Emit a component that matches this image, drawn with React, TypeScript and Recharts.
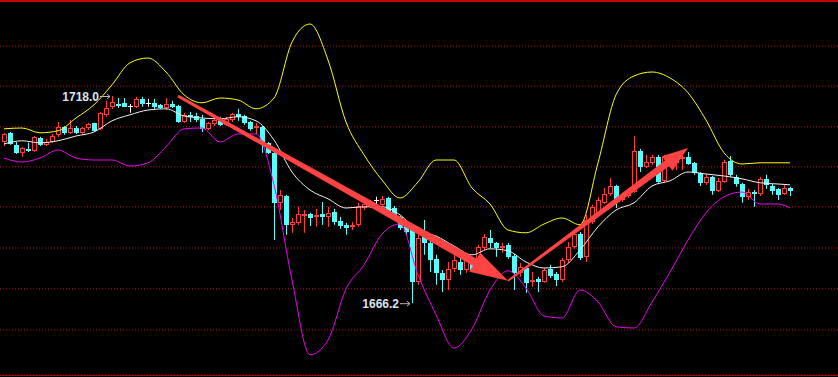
import React from 'react';
import { ComposedChart, Bar, Line, XAxis, YAxis, CartesianGrid, ReferenceLine, ReferenceDot } from 'recharts';

// OHLC, one entry per candle (left to right)
const open = [
  1706.5, 1708.8, 1705.8, 1703.8, 1704.8, 1704.3, 1707.5, 1705.8, 1706.5, 1708.3,
  1710.3, 1708.8, 1710, 1708.8, 1710, 1711.3, 1709.8, 1713.3, 1715.3, 1716,
  1716.3, 1715.5, 1715.3, 1717.3, 1716.3, 1716.3, 1715.8, 1715, 1716, 1715.5,
  1711.5, 1713.3, 1713, 1712.3, 1709.8, 1711, 1711.8, 1710.8, 1712, 1713.5,
  1713, 1711.5, 1710, 1710.3, 1706.3, 1703.8, 1691.3, 1693, 1685.8, 1686.3,
  1688.3, 1688.5, 1687.8, 1688.5, 1687.8, 1689, 1686.8, 1685.8, 1685.3, 1685.8,
  1690, 1690.5, 1692, 1690.8, 1692.5, 1690, 1687.8, 1685.8, 1684.5, 1671.5,
  1683.3, 1681.3, 1677.3, 1673.8, 1672, 1674.8, 1676.5, 1674.5, 1676.8, 1676.3,
  1680, 1682.5, 1681.3, 1680.3, 1680.8, 1678, 1673.8, 1675, 1671.5, 1672.3,
  1671.5, 1674.8, 1673.5, 1672, 1677, 1680.3, 1683.5, 1677.8, 1686.5, 1688.3,
  1691.3, 1693.5, 1695.5, 1692, 1693, 1694, 1704.3, 1700.3, 1701.3, 1702.8,
  1696.8, 1701.5, 1701.3, 1702.3, 1702.8, 1701.3, 1698.8, 1696.3, 1697.8, 1694.3,
  1696.5, 1701.8, 1697.8, 1696, 1692.8, 1694, 1693.5, 1697.3, 1695.5, 1694.8,
  1693.5, 1695,
];
const high = [
  1708.8, 1709, 1706.5, 1705.3, 1706.3, 1708, 1707.8, 1707.3, 1708.5, 1711.5,
  1710.5, 1712, 1710.5, 1710.3, 1711.3, 1711.3, 1714, 1716.8, 1718.0, 1717.5,
  1717.5, 1716, 1717.8, 1717.8, 1717.3, 1717.3, 1716, 1717.5, 1716.8, 1715.8,
  1713.8, 1714, 1713.8, 1713.3, 1711.5, 1712.8, 1712.8, 1712.8, 1713.8, 1714.8,
  1713.3, 1711.8, 1711.3, 1710.5, 1706.5, 1704, 1694.5, 1693.3, 1687.5, 1690.3,
  1689.5, 1688.8, 1689.8, 1691.5, 1690.3, 1689.8, 1687.8, 1686.3, 1686.5, 1691.3,
  1691.5, 1692, 1692.8, 1693, 1692.8, 1690.5, 1688, 1686.5, 1685.8, 1684,
  1687, 1682, 1678.3, 1674.5, 1676.5, 1678.3, 1677.5, 1678.3, 1677.3, 1680.8,
  1683.5, 1684.5, 1681.5, 1681.3, 1681.3, 1678.5, 1676.3, 1675.5, 1674, 1672.8,
  1675, 1675.8, 1674, 1677.5, 1681.5, 1684.5, 1684, 1688.3, 1690.8, 1692.8,
  1695, 1697.5, 1695.8, 1693.8, 1695, 1708, 1704.8, 1703.3, 1703.3, 1703.3,
  1703.3, 1703.3, 1702.8, 1704, 1704, 1701.5, 1699, 1698.5, 1698, 1697.5,
  1702, 1703, 1698.3, 1696.3, 1694.8, 1694.5, 1697.8, 1698.3, 1696, 1695,
  1695.8, 1695.3,
];
const low = [
  1705.5, 1705.8, 1703.5, 1702.8, 1704, 1704, 1705.5, 1705.5, 1706.3, 1707.8,
  1708.3, 1708.5, 1708.5, 1708.5, 1709.5, 1709, 1709.5, 1712.8, 1714.8, 1715,
  1715.3, 1713.8, 1715, 1715.3, 1715.3, 1714.8, 1714.8, 1714.5, 1715, 1711.3,
  1711.3, 1711.5, 1711.5, 1709, 1709.5, 1710.5, 1710.5, 1710.5, 1711.5, 1711.8,
  1710.8, 1709.3, 1708.5, 1703.8, 1703.5, 1682, 1689.5, 1683.3, 1683.8, 1685.8,
  1683.8, 1685.5, 1685.3, 1685.8, 1685.3, 1685.8, 1684.8, 1683.3, 1684.5, 1685.3,
  1689.5, 1690, 1690.8, 1690.5, 1688.3, 1687.3, 1684.5, 1683.5, 1666.2, 1670.8,
  1678.3, 1674, 1670.8, 1669, 1669.5, 1674, 1673.3, 1673.8, 1674, 1675.8,
  1679.5, 1680, 1677.8, 1678.8, 1677.3, 1669.5, 1672.8, 1668.8, 1670.3, 1669,
  1671.3, 1672.5, 1670.5, 1671.5, 1676.3, 1679.8, 1677, 1676.5, 1686, 1687.8,
  1691, 1693, 1690, 1691.5, 1692.5, 1693.8, 1699, 1700, 1700.8, 1696.3,
  1696.5, 1700.8, 1699.5, 1699.5, 1700.8, 1698.3, 1695.5, 1695.8, 1693.3, 1694,
  1696.3, 1697.8, 1695.3, 1691.3, 1692, 1690.3, 1693, 1694.8, 1693.3, 1692,
  1693.3, 1693,
];
const close = [
  1708.5, 1706, 1703.8, 1705, 1704.3, 1707.8, 1705.8, 1706.5, 1708, 1710.3,
  1708.8, 1710, 1708.8, 1710, 1711, 1709.3, 1713.8, 1715, 1716.5, 1715.5,
  1715.3, 1715.5, 1717.3, 1716, 1716.3, 1715.3, 1715, 1716, 1715.3, 1711.5,
  1713.3, 1712.8, 1712, 1709.8, 1711.3, 1712, 1710.8, 1712.3, 1713.5, 1712.8,
  1711.3, 1709.8, 1710.5, 1706.3, 1703.8, 1691.3, 1693.3, 1685.8, 1686.5, 1688.5,
  1688.5, 1687.5, 1688.3, 1687.8, 1688.8, 1686.5, 1685.5, 1685, 1685.8, 1690.5,
  1691, 1691.5, 1692, 1692.3, 1688.8, 1687.8, 1685, 1684, 1671.5, 1682.5,
  1681.3, 1677, 1673.8, 1672, 1674.8, 1677, 1674.5, 1677.5, 1674.5, 1680.3,
  1682.8, 1681.3, 1680, 1680.5, 1677.8, 1673.8, 1675.3, 1671.3, 1672, 1671.5,
  1674.5, 1673, 1672, 1677, 1680.3, 1683.5, 1677.5, 1687, 1690.3, 1692,
  1693.5, 1695.5, 1692, 1693, 1694.5, 1704.3, 1700.3, 1701.5, 1702.8, 1696.5,
  1702.8, 1702.5, 1702.3, 1702.8, 1701, 1698.8, 1696.3, 1697.8, 1694.3, 1696.8,
  1701.5, 1698.3, 1696, 1692.8, 1694, 1693.5, 1697.3, 1695.8, 1694.3, 1693.3,
  1695, 1694.3,
];

// Bollinger bands, read at every third candle
const bandAt = [
  0, 3, 6, 9, 12, 15, 18, 21, 24, 27, 30, 33, 36, 39, 42, 45, 48, 51, 54, 57, 60, 63,
  66, 69, 72, 75, 78, 81, 84, 87, 90, 93, 96, 99, 102, 105, 108, 111, 114, 117, 120,
  123, 126, 129, 131,
];
const upper = [
  1709.8, 1710, 1708.8, 1709.3, 1712.5, 1715.8, 1720.8, 1726.3, 1727.5, 1724, 1718.3,
  1716.3, 1717.5, 1717, 1714.8, 1717.5, 1731.5, 1736, 1727, 1711.5, 1703.3, 1697,
  1692.5, 1696.5, 1702, 1702, 1695, 1691, 1684.5, 1683.8, 1686, 1687.5, 1685.8, 1701.3,
  1718.3, 1723, 1724, 1722.5, 1718.8, 1712, 1703.8, 1701, 1701.3, 1701.3, 1701.3,
];
const middle = [
  1706, 1706.8, 1706.3, 1706.8, 1708, 1709, 1711.8, 1713.3, 1714.5, 1714.8, 1713,
  1712.5, 1712.3, 1712.8, 1711.8, 1707, 1699, 1694.5, 1692.3, 1690, 1690.3, 1690.3,
  1688.3, 1684.3, 1683, 1680.5, 1678.3, 1679.8, 1679.3, 1676.5, 1675, 1675.3, 1679.5,
  1685.3, 1689.5, 1691.3, 1695.5, 1696.8, 1699, 1698.5, 1698, 1697.3, 1696.3, 1696, 1695.8,
];
const lower = [
  1702.5, 1701.5, 1702.5, 1704.5, 1702.5, 1702, 1702, 1700.5, 1701.3, 1705.3, 1709.8,
  1710, 1706.5, 1708.5, 1708.5, 1695.8, 1672, 1653.3, 1657, 1669.8, 1675.8, 1683.5,
  1686, 1673.3, 1663.3, 1655, 1659.8, 1669.5, 1674.3, 1670, 1663, 1662.5, 1669.5,
  1666.5, 1660.3, 1660, 1666.5, 1674, 1682, 1688.8, 1692.8, 1694, 1691, 1691, 1690,
];

const gridLevels = [1730.5, 1720.5, 1710.3, 1700.3, 1690.3, 1680, 1669.8, 1659.5];

// trend arrows drawn on the chart (candle index, price)
const downTrend = [{ x: 29, y: 1718.0 }, { x: 84, y: 1671.8 }];
const upTrend = [{ x: 84, y: 1671.8 }, { x: 114, y: 1705.0 }];

const highMark = { i: 18, price: 1718.0 };
const lowMark = { i: 68, price: 1666.2 };

const UP = '#ff3b3b';
const DOWN = '#55ffff';

const data = open.map((o, i) => ({
  i,
  open: o,
  high: high[i],
  low: low[i],
  close: close[i],
  range: [low[i], high[i]],
  upper: null as number | null,
  middle: null as number | null,
  lower: null as number | null,
}));
bandAt.forEach((idx, k) => {
  data[idx].upper = upper[k];
  data[idx].middle = middle[k];
  data[idx].lower = lower[k];
});

const Candle = (props: any) => {
  const { x, y, width, height, payload } = props;
  if (!payload) return null;
  const { open: o, close: c, high: h, low: l } = payload;
  const yTop = Math.min(y, y + height);
  const hh = Math.abs(height);
  const k = h - l === 0 ? 0 : hh / (h - l);
  const yOf = (v: number) => yTop + (h - v) * k;
  const cx = Math.round(x + width / 2);
  const top = Math.round(yOf(Math.max(o, c)));
  const bot = Math.round(yOf(Math.min(o, c)));
  if (o === c) {
    return (
      <g>
        <line x1={cx + 0.5} x2={cx + 0.5} y1={yTop} y2={yTop + hh} stroke="#ffffff" />
        <line x1={cx - 2} x2={cx + 3} y1={top + 0.5} y2={top + 0.5} stroke="#ffffff" />
      </g>
    );
  }
  if (c > o) {
    return (
      <g>
        <line x1={cx + 0.5} x2={cx + 0.5} y1={yTop} y2={yTop + hh} stroke={UP} />
        <rect x={cx - 1.5} y={top + 0.5} width={4} height={Math.max(bot - top - 1, 1)} fill="#000" stroke={UP} />
      </g>
    );
  }
  return (
    <g>
      <line x1={cx + 0.5} x2={cx + 0.5} y1={yTop} y2={yTop + hh} stroke={DOWN} />
      <rect x={cx - 2} y={top} width={5} height={Math.max(bot - top, 1)} fill={DOWN} />
    </g>
  );
};

const arrowShape = (w0: number, w1: number, headLen: number, headW: number) => (p: any) => {
  const { x1, y1, x2, y2 } = p;
  if ([x1, y1, x2, y2].some((v) => v == null || isNaN(v))) return <g />;
  const dx = x2 - x1;
  const dy = y2 - y1;
  const len = Math.hypot(dx, dy) || 1;
  const ux = dx / len;
  const uy = dy / len;
  const nx = -uy;
  const ny = ux;
  const bx = x2 - ux * headLen;
  const by = y2 - uy * headLen;
  const pts = [
    [x1 + (nx * w0) / 2, y1 + (ny * w0) / 2],
    [bx + (nx * w1) / 2, by + (ny * w1) / 2],
    [bx + (nx * headW) / 2, by + (ny * headW) / 2],
    [x2, y2],
    [bx - (nx * headW) / 2, by - (ny * headW) / 2],
    [bx - (nx * w1) / 2, by - (ny * w1) / 2],
    [x1 - (nx * w0) / 2, y1 - (ny * w0) / 2],
  ];
  return <polygon points={pts.map((q) => q.join(',')).join(' ')} fill="#ff4242" />;
};

const priceTag = (text: string) => (p: any) => {
  const { cx, cy } = p;
  if (cx == null || cy == null) return <g />;
  return (
    <g>
      <text
        x={cx - 13}
        y={cy + 4.5}
        textAnchor="end"
        fontFamily="'Liberation Sans', Arial, sans-serif"
        fontSize={12}
        fontWeight="bold"
        fill="#dde4ee"
      >
        {text}
      </text>
      <line x1={cx - 12} x2={cx - 2} y1={cy + 0.5} y2={cy + 0.5} stroke="#b8b8b8" />
      <polyline points={`${cx - 5},${cy - 2} ${cx - 2},${cy + 0.5} ${cx - 5},${cy + 3}`} fill="none" stroke="#b8b8b8" />
    </g>
  );
};

export default function App() {
  return (
    <div style={{ position: 'relative', width: 838, height: 377, background: '#000', overflow: 'hidden' }}>
      <style>{'body{margin:0;background:#000}'}</style>
      <div style={{ position: 'absolute', left: 0, top: 0, width: 838, height: 2, background: '#c80000' }} />
      <div style={{ position: 'absolute', left: 0, top: 375, width: 838, height: 1, background: '#a00000' }} />
      <ComposedChart width={838} height={377} data={data} margin={{ top: 1, right: 0, bottom: 2, left: 0 }}>
        <CartesianGrid vertical={false} stroke="#b01414" strokeDasharray="1 2" />
        <XAxis dataKey="i" type="category" hide padding={{ left: 1, right: 45 }} />
        <YAxis hide domain={[1648.25, 1741.75]} ticks={gridLevels} allowDataOverflow />
        <Bar dataKey="range" shape={Candle} isAnimationActive={false} />
        <Line type="monotone" dataKey="upper" stroke="#ffff00" strokeWidth={1} dot={false} connectNulls isAnimationActive={false} />
        <Line type="monotone" dataKey="middle" stroke="#f0f0f0" strokeWidth={1} dot={false} connectNulls isAnimationActive={false} />
        <Line type="monotone" dataKey="lower" stroke="#ee00ee" strokeWidth={1} dot={false} connectNulls isAnimationActive={false} />
        <ReferenceLine segment={downTrend} shape={arrowShape(3, 8, 38, 22)} />
        <ReferenceLine segment={upTrend} shape={arrowShape(2, 7, 26, 18)} />
        <ReferenceDot x={highMark.i} y={highMark.price} r={0} shape={priceTag(highMark.price.toFixed(1))} />
        <ReferenceDot x={lowMark.i} y={lowMark.price} r={0} shape={priceTag(lowMark.price.toFixed(1))} />
      </ComposedChart>
    </div>
  );
}
